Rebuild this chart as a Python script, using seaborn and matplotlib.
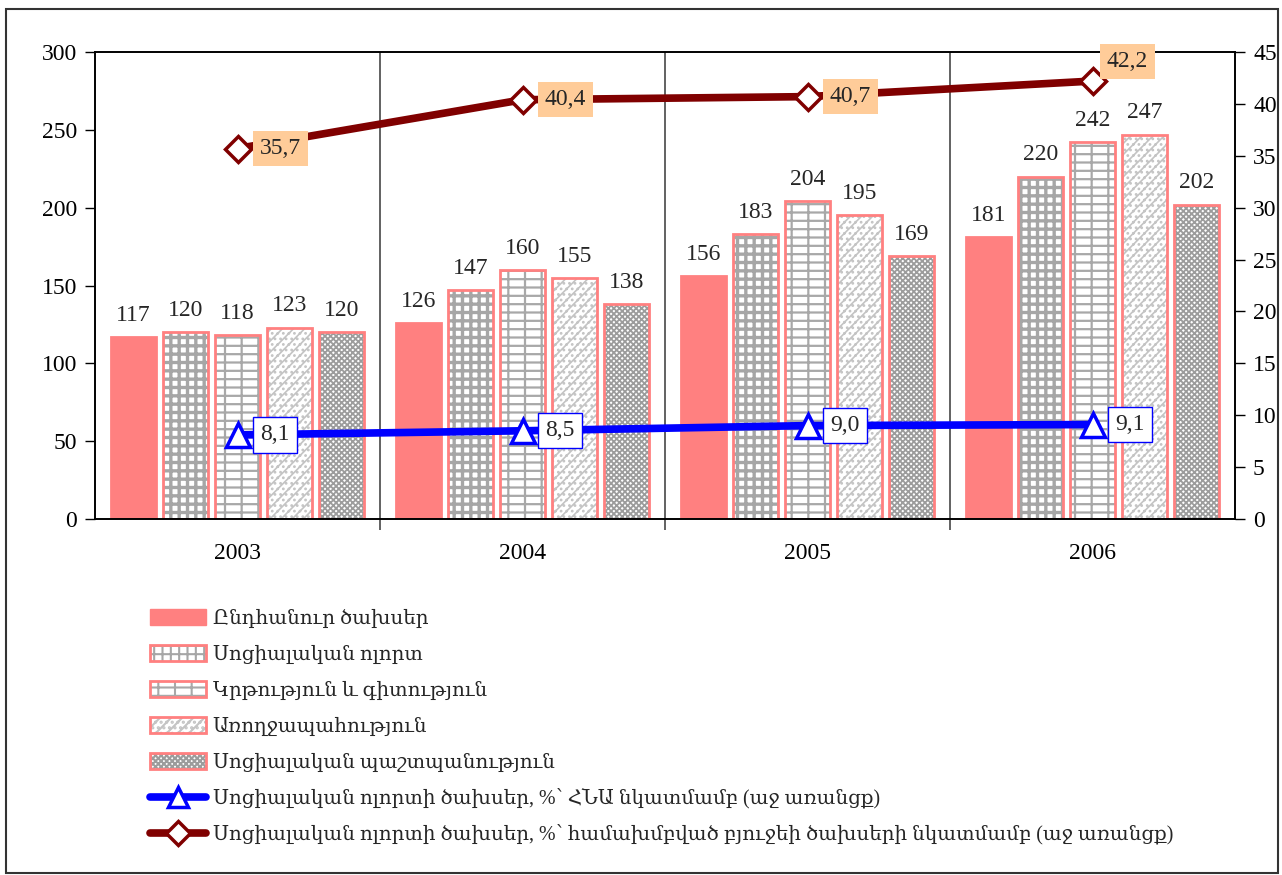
import matplotlib
matplotlib.use("Agg")
import matplotlib.pyplot as plt
from matplotlib.patches import Rectangle, Patch
from matplotlib.lines import Line2D
import numpy as np
import pandas as pd
import seaborn as sns

# Data
years = ["2003", "2004", "2005", "2006"]
series_names = [
    "Ընդհանուր ծախսեր",
    "Սոցիալական ոլորտ",
    "Կրթություն և գիտություն",
    "Առողջապահություն",
    "Սոցիալական պաշտպանություն",
]
total_exp = [117, 126, 156, 181]
social_sector = [120, 147, 183, 220]
education = [118, 160, 204, 242]
health = [123, 155, 195, 247]
social_protection = [120, 138, 169, 202]

share_gdp = [8.1, 8.5, 9.0, 9.1]
share_budget = [35.7, 40.4, 40.7, 42.2]
line_gdp_label = "Սոցիալական ոլորտի ծախսեր, %՝ ՀՆԱ նկատմամբ (աջ առանցք)"
line_budget_label = "Սոցիալական ոլորտի ծախսեր, %՝ համախմբված բյուջեի ծախսերի նկատմամբ (աջ առանցք)"

left_ticks = list(range(0, 301, 50))
right_ticks = list(range(0, 46, 5))

values = [total_exp, social_sector, education, health, social_protection]
df = pd.DataFrame(
    [(y, name, v[i]) for name, v in zip(series_names, values) for i, y in enumerate(years)],
    columns=["year", "series", "value"],
)

SALMON = "#FF8080"
face_colors = [SALMON, "white", "white", "white", "white"]
hatches = [None, "++", "--|", "///...", "xxxxxx"]
hatch_colors = [SALMON, "#A6A6A6", "#A8A8A8", "#C4C4C4", "#9C9C9C"]
hatch_widths = [1.0, 2.4, 1.6, 1.2, 1.3]

sns.set_theme(style="white")
FONT = ["Liberation Serif", "DejaVu Serif"]
plt.rcParams["font.family"] = FONT
plt.rcParams["hatch.linewidth"] = 1.5
NUM_SIZE = 17


def style_hatch(p, h, c, w):
    # hatch colour follows the edge colour; the outline itself is drawn separately
    p.set_edgecolor(c)
    if h:
        p.set_hatch(h)
    if hasattr(p, "set_hatch_linewidth"):
        p.set_hatch_linewidth(w)


fig = plt.figure(figsize=(12.82, 8.75), dpi=100)
ax = fig.add_axes([95 / 1282, 1 - 519 / 875, (1235 - 95) / 1282, (519 - 52) / 875])

# Hatched fills
sns.barplot(
    data=df, x="year", y="value", hue="series", hue_order=series_names,
    palette=face_colors, saturation=1, width=0.912, gap=0.118, errorbar=None,
    linewidth=0, ax=ax, legend=False,
)
fill_containers = list(ax.containers)
for cont, h, c, w in zip(fill_containers, hatches, hatch_colors, hatch_widths):
    for p in cont:
        style_hatch(p, h, c, w)

# Salmon outlines
sns.barplot(
    data=df, x="year", y="value", hue="series", hue_order=series_names,
    palette=face_colors, saturation=1, width=0.912, gap=0.118, errorbar=None,
    fill=False, ax=ax, legend=False, linewidth=2,
)
for cont in ax.containers[len(fill_containers):]:
    for p in cont:
        p.set_edgecolor(SALMON)
        p.set_linewidth(2)

for cont in fill_containers:
    ax.bar_label(cont, fmt="%d", padding=8, fontsize=NUM_SIZE, family=FONT)

ax.set_ylim(0, 300)
ax.set_xlim(-0.5, 3.5)
ax.set_yticks(left_ticks)
ax.set_xlabel("")
ax.set_ylabel("")
for s in ax.spines.values():
    s.set_color("black")
    s.set_linewidth(1.2)
ax.tick_params(axis="y", direction="out", length=7, width=1, labelsize=NUM_SIZE, pad=6, left=True, colors="black")
ax.tick_params(axis="x", which="major", length=0, labelsize=NUM_SIZE, pad=17, colors="black")
ax.set_xticks([0.5, 1.5, 2.5], minor=True)
ax.tick_params(axis="x", which="minor", direction="out", length=8, width=1.3, color="#555555", bottom=True)
for xb in [0.5, 1.5, 2.5]:
    ax.axvline(xb, color="#555555", lw=1.3, zorder=0.5)

# Right axis: percentage lines
ax2 = ax.twinx()
xs = np.arange(len(years))
sns.lineplot(x=xs, y=share_gdp, ax=ax2, color="#0000FF", lw=5.5, marker="^",
             markersize=17, markerfacecolor="white", markeredgecolor="#0000FF",
             markeredgewidth=2.5, zorder=5)
sns.lineplot(x=xs, y=share_budget, ax=ax2, color="#800000", lw=5.5, marker="D",
             markersize=13, markerfacecolor="white", markeredgecolor="#800000",
             markeredgewidth=2.5, zorder=5)
ax2.set_ylim(0, 45)
ax2.set_yticks(right_ticks)
ax2.set_xlim(-0.5, 3.5)
ax2.tick_params(axis="y", direction="out", length=7, width=1, labelsize=NUM_SIZE, pad=6, right=True, colors="black")
for s in ax2.spines.values():
    s.set_color("black")
    s.set_linewidth(1.2)


def fmt_comma(v):
    return f"{v:.1f}".replace(".", ",")


for i, v in enumerate(share_gdp):
    ax2.annotate(fmt_comma(v), (xs[i], v), xytext=(27, 0), textcoords="offset points",
                 ha="center", va="center", fontsize=NUM_SIZE, family=FONT, zorder=7,
                 bbox=dict(boxstyle="square,pad=0.3", fc="white", ec="#0000FF", lw=1))
for i, v in enumerate(share_budget):
    off = (25, 14) if i == len(share_budget) - 1 else (31, 0)
    ax2.annotate(fmt_comma(v), (xs[i], v), xytext=off, textcoords="offset points",
                 ha="center", va="center", fontsize=NUM_SIZE, family=FONT, zorder=7,
                 bbox=dict(boxstyle="square,pad=0.3", fc="#FFCC99", ec="none"))

# Legend
handles = []
for fc, h, c, w in zip(face_colors, hatches, hatch_colors, hatch_widths):
    if h:
        fill = Patch(facecolor=fc, lw=0)
        style_hatch(fill, h, c, w)
        edge = Patch(facecolor="none", edgecolor=SALMON, lw=2)
        handles.append((fill, edge))
    else:
        handles.append(Patch(facecolor=SALMON, edgecolor=SALMON, lw=1))
handles.append(Line2D([], [], color="#0000FF", lw=5.5, marker="^", markersize=15,
                      markerfacecolor="white", markeredgecolor="#0000FF", markeredgewidth=2.5))
handles.append(Line2D([], [], color="#800000", lw=5.5, marker="D", markersize=12,
                      markerfacecolor="white", markeredgecolor="#800000", markeredgewidth=2.5))
labels = series_names + [line_gdp_label, line_budget_label]
fig.legend(handles, labels, loc="upper left", bbox_to_anchor=(150 / 1282, 1 - 609 / 875),
           frameon=False, handlelength=2.8, handleheight=0.88,
           handletextpad=0.35, labelspacing=0.805, borderpad=0, borderaxespad=0,
           prop={"family": FONT, "size": 14.3})

# Outer frame
fig.patches.append(Rectangle((6 / 1282, 2 / 875), 1272 / 1282, 864 / 875, transform=fig.transFigure,
                             fill=False, ec="#333333", lw=1.5))

fig.savefig("out.png", dpi=100)
